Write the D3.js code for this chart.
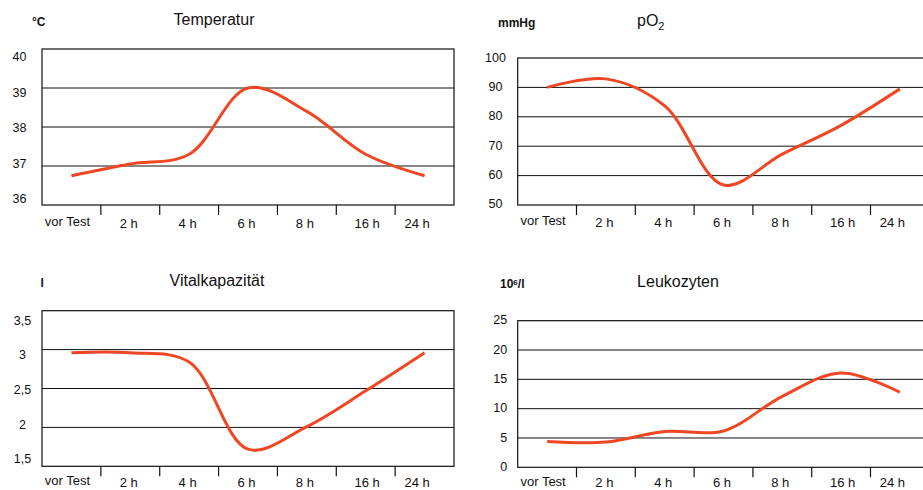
<!DOCTYPE html>
<html>
<head>
<meta charset="utf-8">
<script src="https://cdn.jsdelivr.net/npm/d3@7"></script>
<style>
  body { margin: 0; background: #fff; }
  text { font-family: "Liberation Sans", Arial, Helvetica, sans-serif; fill: #111; }
</style>
</head>
<body>
<script>
// Zeitpunkte (x-Achse)
var hours = ["vor Test", "2 h", "4 h", "6 h", "8 h", "16 h", "24 h"];

var temperatur = [36.75, 37.05, 37.3, 39.0, 38.4, 37.3, 36.75];
var po2 = [90, 92.9, 83.7, 56.8, 67.3, 77.1, 89.5];
var vitalkapazitaet = [2.96, 2.96, 2.84, 1.72, 2.01, 2.47, 2.96];
var leukozyten = [4.4, 4.3, 6.1, 6.2, 12.1, 16.1, 12.8];

// y-Achsen Ticks
var tempTicks = [36, 37, 38, 39, 40];
var po2Ticks = [50, 60, 70, 80, 90, 100];
var vkTicks = [1.5, 2, 2.5, 3, 3.5];
var leukTicks = [0, 5, 10, 15, 20, 25];

var de = d3.formatLocale({decimal: ",", thousands: ".", grouping: [3], currency: ["", " €"]});
var fmt = function(v) { return de.format("~g")(v); };

// small nudges of the x labels as they sit in the original
var labelNudge = [-4, -1.5, -1.5, -1.5, -2, 1.5, -7.5];

var panels = [
  {title: "Temperatur", unit: "°C", values: temperatur, ticks: tempTicks,
   left: 42, top: 49, width: 412, height: 156,
   titleX: 214, titleY: 25, unitX: 32, unitY: 26,
   labelX: -22.6, anchor: "middle", inset: [7.7, 6], xlabY: [20.5, 22.5]},
  {title: "pO", sub: "2", unit: "mmHg", values: po2, ticks: po2Ticks,
   left: 517.7, top: 58, width: 411.6, height: 147,
   titleX: 637, titleAnchor: "start", titleY: 26, unitX: 498, unitY: 26.5,
   labelX: -22.2, anchor: "middle", inset: [-0.5, 1.3], xlabY: [20, 22]},
  {title: "Vitalkapazität", unit: "l", values: vitalkapazitaet, ticks: vkTicks,
   left: 42, top: 310.7, width: 412, height: 155.6,
   titleX: 217, titleY: 286, unitX: 40.5, unitY: 287,
   labelX: -19.5, anchor: "middle", inset: [9.8, 7.3], xlabY: [19, 20.5]},
  {title: "Leukozyten", unit: "10", sup: "6", unitRest: "/l", values: leukozyten, ticks: leukTicks,
   left: 517.7, top: 320.7, width: 411.6, height: 146.6,
   titleX: 678, titleY: 287, unitX: 500, unitY: 288,
   labelX: -10.5, anchor: "end", inset: [-0.8, 0.8], xlabY: [18.5, 19.5]}
];

var svg = d3.select("body")
  .append("svg")
  .attr("width", 923)
  .attr("height", 490);

panels.forEach(function(p) {
  var g = svg.append("g")
    .attr("transform", "translate(" + p.left + "," + p.top + ")");

  var x = d3.scaleBand().domain(hours).range([0, p.width]);
  var y = d3.scaleLinear().domain(d3.extent(p.ticks)).range([p.height, 0]);
  // the y labels in the original don't sit exactly on the grid
  var yLab = d3.scaleLinear().domain(d3.extent(p.ticks))
    .range([p.height - p.inset[1], p.inset[0]]);

  // gridlines
  g.selectAll(".grid")
    .data(p.ticks.slice(1, -1))
    .enter().append("line")
    .attr("x1", 0).attr("x2", p.width)
    .attr("y1", function(d) { return y(d); })
    .attr("y2", function(d) { return y(d); })
    .style("stroke", "#111")
    .style("stroke-width", 1);

  // frame
  g.append("rect")
    .attr("width", p.width)
    .attr("height", p.height)
    .style("fill", "none")
    .style("stroke", "#111")
    .style("stroke-width", 1.2);

  // x ticks at band boundaries
  g.selectAll(".xtick")
    .data(hours.slice(1))
    .enter().append("line")
    .attr("x1", function(d) { return x(d); })
    .attr("x2", function(d) { return x(d); })
    .attr("y1", p.height).attr("y2", p.height + 10)
    .style("stroke", "#111")
    .style("stroke-width", 1.2);

  g.selectAll(".xlab")
    .data(hours)
    .enter().append("text")
    .attr("x", function(d, i) { return x(d) + x.bandwidth() / 2 + labelNudge[i]; })
    .attr("y", function(d, i) { return p.height + (i === 0 ? p.xlabY[0] : p.xlabY[1]); })
    .attr("text-anchor", "middle")
    .style("font-size", "13px")
    .text(function(d) { return d; });

  // y labels
  g.selectAll(".ylab")
    .data(p.ticks)
    .enter().append("text")
    .attr("x", p.labelX)
    .attr("y", function(d) { return yLab(d); })
    .attr("dy", "0.35em")
    .attr("text-anchor", p.anchor)
    .style("font-size", "12.5px")
    .text(fmt);

  // the curve
  var line = d3.line()
    .x(function(d, i) { return x(hours[i]) + x.bandwidth() / 2; })
    .y(function(d) { return y(d); })
    .curve(d3.curveCatmullRom);

  g.append("path")
    .attr("d", line(p.values))
    .style("fill", "none")
    .style("stroke", "#ef4623")
    .style("stroke-width", 3)
    .style("stroke-linecap", "butt");

  // title
  var t = svg.append("text")
    .attr("x", p.titleX)
    .attr("y", p.titleY)
    .attr("text-anchor", p.titleAnchor || "middle")
    .style("font-size", "16px")
    .text(p.title);
  if (p.sub) {
    t.append("tspan").attr("dy", 4).style("font-size", "11px").text(p.sub);
  }

  // unit
  var u = svg.append("text")
    .attr("x", p.unitX)
    .attr("y", p.unitY)
    .style("font-size", "12px")
    .style("font-weight", "bold")
    .text(p.unit);
  if (p.sup) {
    u.append("tspan").attr("dy", -3).style("font-size", "8px").text(p.sup);
    u.append("tspan").attr("dy", 3).text(p.unitRest);
  }
});
</script>
</body>
</html>
